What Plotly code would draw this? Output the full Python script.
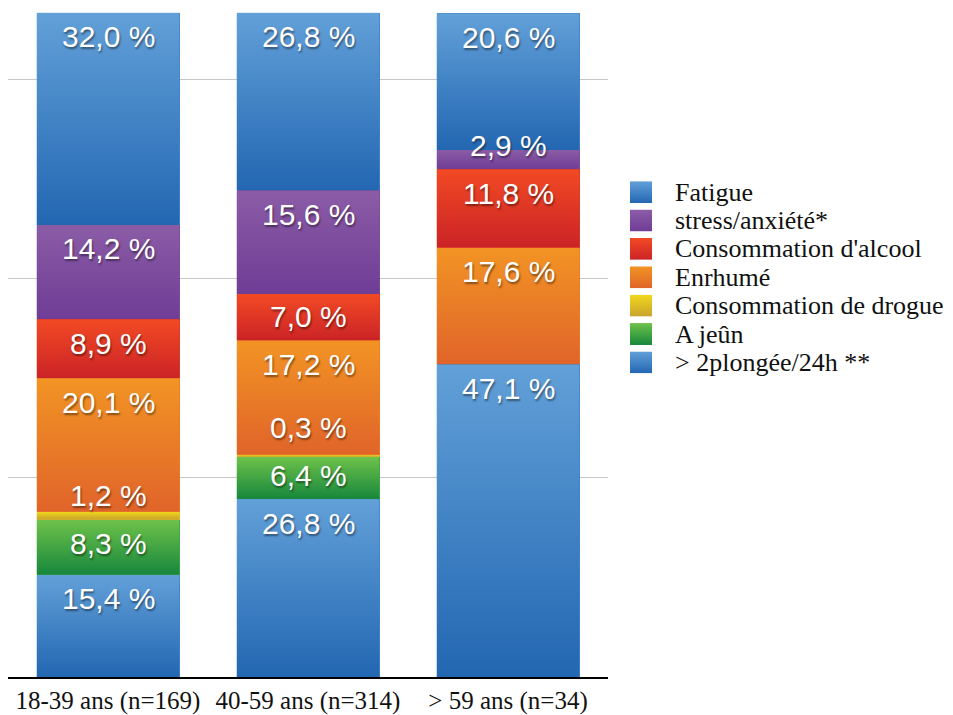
import base64
import plotly.graph_objects as go

# Age groups on the x axis
categories = ["18-39 ans (n=169)", "40-59 ans (n=314)", "> 59 ans (n=34)"]

# Share of divers (%) per factor, stacked bottom to top
plongee = [15.4, 26.8, 47.1]
jeun = [8.3, 6.4, 0.0]
drogue = [1.2, 0.3, 0.0]
enrhume = [20.1, 17.2, 17.6]
alcool = [8.9, 7.0, 11.8]
stress = [14.2, 15.6, 2.9]
fatigue = [32.0, 26.8, 20.6]

# (name, values, gradient top colour, gradient bottom colour), bottom of the stack first
series = [
    ("> 2plongée/24h **", plongee, "#62a0d8", "#2367b2"),
    ("A jeûn", jeun, "#6ec24a", "#17873c"),
    ("Consommation de drogue", drogue, "#f2d81c", "#c8a22e"),
    ("Enrhumé", enrhume, "#f29424", "#e0642a"),
    ("Consommation d'alcool", alcool, "#f24a24", "#cb2326"),
    ("stress/anxiété*", stress, "#8b5ca6", "#6f3d96"),
    ("Fatigue", fatigue, "#62a0d8", "#2367b2"),
]

SERIF = "Liberation Serif"
SANS = "Liberation Sans"

BAR_WIDTH = 0.715
LABEL_DROP = 3.6    # value label sits this far below the top of its segment
LABEL_GAP = 7.2     # minimum vertical distance between two labels of one bar


def mix(c1, c2):
    a = [int(c1[i:i + 2], 16) for i in (1, 3, 5)]
    b = [int(c2[i:i + 2], 16) for i in (1, 3, 5)]
    return "#%02x%02x%02x" % tuple((x + y) // 2 for x, y in zip(a, b))


def gradient_uri(top, bottom):
    svg = (
        "<svg xmlns='http://www.w3.org/2000/svg' width='10' height='100' "
        "viewBox='0 0 10 100' preserveAspectRatio='none'>"
        "<defs><linearGradient id='g' x1='0' y1='0' x2='0' y2='1'>"
        f"<stop offset='0' stop-color='{top}'/><stop offset='1' stop-color='{bottom}'/>"
        "</linearGradient></defs><rect width='10' height='100' fill='url(#g)'/></svg>"
    )
    return "data:image/svg+xml;base64," + base64.b64encode(svg.encode()).decode()


xpos = list(range(len(categories)))
fig = go.Figure()

for name, vals, top, bottom in series:
    fig.add_trace(go.Bar(
        x=xpos, y=vals, name=name, width=BAR_WIDTH,
        marker=dict(color=mix(top, bottom), line=dict(width=0)),
        showlegend=False, hoverinfo="name+y",
    ))

images = []
annotations = []
for i in xpos:
    base = 0.0
    prev_label = None
    for name, vals, top, bottom in series:
        v = vals[i]
        if v <= 0:
            continue
        seg_top = base + v
        # shaded fill of the segment, light at its top and dark at its bottom
        images.append(dict(
            source=gradient_uri(top, bottom), xref="x", yref="y",
            x=i - BAR_WIDTH / 2, y=seg_top, sizex=BAR_WIDTH, sizey=v,
            xanchor="left", yanchor="top", sizing="stretch", layer="above",
        ))
        ly = seg_top - LABEL_DROP
        if prev_label is not None and ly < prev_label + LABEL_GAP:
            ly = prev_label + LABEL_GAP
        prev_label = ly
        annotations.append(dict(
            x=i, y=ly, xref="x", yref="y", showarrow=False,
            text=f"{v:.1f}".replace(".", ",") + " %",
            font=dict(family=SANS, size=30, color="white",
                      shadow="1px 2px 2px rgba(0,0,0,0.45)"),
            xanchor="center", yanchor="middle",
        ))
        base = seg_top

# Legend: top of the stack listed first
PLOT_W, PLOT_H = 600, 680
for k, (name, vals, top, bottom) in enumerate(reversed(series)):
    cy = 193 + 28.5 * k
    images.append(dict(
        source=gradient_uri(top, bottom), xref="paper", yref="paper",
        x=(630 - 8) / PLOT_W, y=(PLOT_H - (cy - 11)) / PLOT_H,
        sizex=22 / PLOT_W, sizey=22 / PLOT_H,
        xanchor="left", yanchor="top", sizing="stretch", layer="above",
    ))
    annotations.append(dict(
        x=(673 - 8) / PLOT_W, y=(PLOT_H - cy) / PLOT_H, xref="paper", yref="paper",
        showarrow=False, text=name, xanchor="left", yanchor="middle",
        font=dict(family=SERIF, size=26, color="#111111"),
    ))

fig.update_layout(
    barmode="stack",
    width=953, height=715,
    margin=dict(l=8, r=345, t=0, b=35),
    paper_bgcolor="white", plot_bgcolor="white",
    font=dict(family=SERIF),
    images=images,
    annotations=annotations,
    xaxis=dict(
        tickvals=xpos, ticktext=categories, range=[-0.5, 2.5],
        showline=True, linecolor="black", linewidth=2, ticks="",
        showgrid=False, zeroline=False,
        tickfont=dict(family=SERIF, size=25, color="#111111"),
    ),
    yaxis=dict(
        range=[0, 102], tickvals=[30, 60, 90], showticklabels=False,
        showgrid=True, gridcolor="#c6c6c6", gridwidth=1, zeroline=False, showline=False,
    ),
)

fig.write_html("out.html")
